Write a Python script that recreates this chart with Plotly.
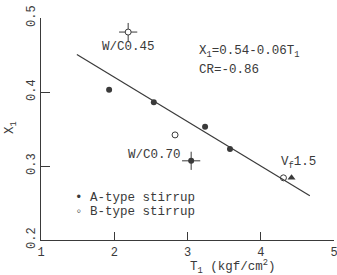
import plotly.graph_objects as go

# Data
a_x = [1.93, 2.54, 3.24, 3.58]
a_y = [0.403, 0.386, 0.353, 0.323]
b_x = [2.83, 4.31]
b_y = [0.342, 0.284]
wc045_x = [2.19]
wc045_y = [0.481]
wc070_x = [3.05]
wc070_y = [0.307]
vf_x = [4.42]
vf_y = [0.284]
fit_x = [1.49, 4.67]
fit_y = [0.4506, 0.2598]

x_ticks = [1, 2, 3, 4, 5]
y_ticks = [0.2, 0.3, 0.4, 0.5]
y_tick_text = ["0.2", "0.3", "0.4", "0.5"]

ink = "#3a3a3a"
FONT = "Liberation Mono, Courier New, monospace"

fig = go.Figure()
fig.add_trace(go.Scatter(x=fit_x, y=fit_y, mode="lines",
                         line=dict(color=ink, width=1.2), showlegend=False))
fig.add_trace(go.Scatter(x=a_x, y=a_y, mode="markers",
                         marker=dict(symbol="circle", size=6, color=ink), showlegend=False))
fig.add_trace(go.Scatter(x=b_x, y=b_y, mode="markers",
                         marker=dict(symbol="circle-open", size=6, color=ink, line=dict(width=1)),
                         showlegend=False))
# crosshair markers
fig.add_trace(go.Scatter(x=wc045_x + wc070_x, y=wc045_y + wc070_y, mode="markers",
                         marker=dict(symbol="cross-thin-open", size=13, color=ink, line=dict(width=1, color=ink)),
                         showlegend=False))
fig.add_trace(go.Scatter(x=wc045_x, y=wc045_y, mode="markers",
                         marker=dict(symbol="circle", size=6, color="white", line=dict(width=1, color=ink)),
                         showlegend=False))
fig.add_trace(go.Scatter(x=wc070_x, y=wc070_y, mode="markers",
                         marker=dict(symbol="circle", size=6, color=ink),
                         showlegend=False))
fig.add_trace(go.Scatter(x=vf_x, y=vf_y, mode="markers",
                         marker=dict(symbol="triangle-up", size=7, color=ink), showlegend=False))

def ann(x, y, text, size=12.5, anchor="left", angle=0):
    fig.add_annotation(x=x, y=y, xref="paper", yref="paper", text=text, showarrow=False,
                       xanchor=anchor, yanchor="middle", textangle=angle,
                       font=dict(family=FONT, size=size, color=ink))

# positions in paper coords (page pixels): plot x 41..334, y 18..240
def px(xp):
    return (xp - 41) / 293.0
def py(yp):
    return (240 - yp) / 222.0

ann(px(128), py(47), "W/C0.45", anchor="center")
ann(px(197), py(52), "X<sub>1</sub>=0.54-0.06T<sub>1</sub>")
ann(px(197), py(70), "CR=-0.86")
ann(px(126), py(155), "W/C0.70")
ann(px(279), py(163), "V<sub>f</sub>1.5")
ann(px(73), py(198), "\u2022 A-type stirrup")
ann(px(73), py(212), "\u25e6 B-type stirrup")
# axis titles
ann(px(233), py(267), "T<sub>1</sub> (kgf/cm<sup>2</sup>)", anchor="center")
ann(px(11), py(128), "X<sub>1</sub>", anchor="center", angle=-90)

fig.update_layout(
    width=337, height=275,
    margin=dict(l=41, r=3, t=18, b=35),
    paper_bgcolor="white", plot_bgcolor="white",
    font=dict(family=FONT, size=12, color=ink),
    xaxis=dict(range=[1, 5], tickvals=x_ticks, ticks="inside", ticklen=8, tickwidth=1,
               tickcolor=ink, showline=True, linecolor=ink, linewidth=1.2,
               showgrid=False, zeroline=False, tickfont=dict(size=12), automargin=False,
               ticklabeloverflow="allow"),
    yaxis=dict(range=[0.2, 0.5], tickvals=y_ticks, ticktext=y_tick_text, ticks="inside",
               ticklen=9, tickwidth=1, tickcolor=ink, showline=True, linecolor=ink,
               linewidth=1.2, showgrid=False, zeroline=False, tickangle=-90,
               tickfont=dict(size=12), automargin=False, ticklabeloverflow="allow"),
)

fig.write_html("out.html", config={"displayModeBar": False},
               post_script="document.body.style.margin='0';document.body.style.overflow='hidden';")
